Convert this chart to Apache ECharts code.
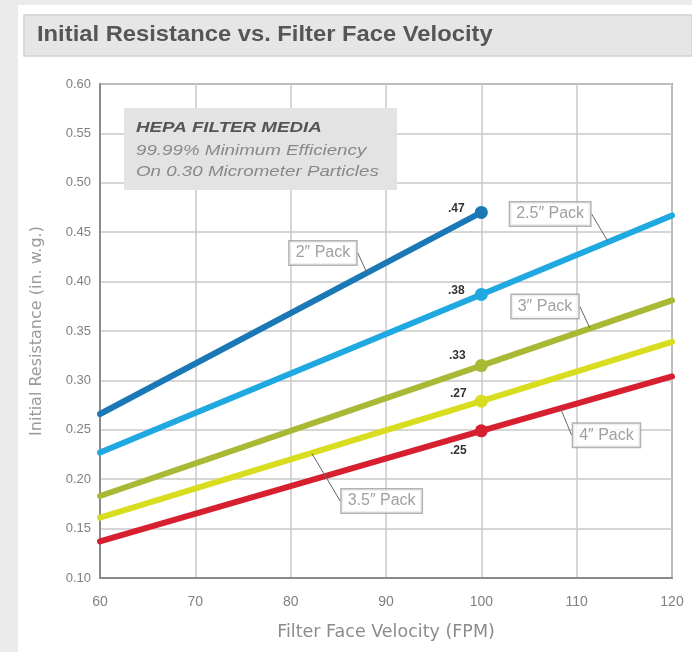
<!DOCTYPE html>
<html>
<head>
<meta charset="utf-8">
<script src="https://cdn.jsdelivr.net/npm/echarts@6/dist/echarts.min.js"></script>
<style>
html,body{margin:0;padding:0;background:#ebebeb;}
#c{width:692px;height:652px;}
</style>
</head>
<body>
<div id="c"></div>
<script>
// Data
const velocity = [60, 100, 120];
const pack2 = [0.266, 0.470];
const pack25 = [0.227, 0.387, 0.467];
const pack3 = [0.183, 0.315, 0.381];
const pack35 = [0.161, 0.279, 0.339];
const pack4 = [0.137, 0.249, 0.304];
const dotLabels = ['.47', '.38', '.33', '.27', '.25'];
const seriesNames = ['2″ Pack', '2.5″ Pack', '3″ Pack', '3.5″ Pack', '4″ Pack'];
const calloutX = [88, 113.3, 111.4, 82.2, 108.3];
const yTicks = [0.10, 0.15, 0.20, 0.25, 0.30, 0.35, 0.40, 0.45, 0.50, 0.55, 0.60];
const xTicks = [60, 70, 80, 90, 100, 110, 120];

const colors = ['#1b78b6', '#20a9e1', '#a9b935', '#d9dd1f', '#d7202f'];
const allVals = [pack2, pack25, pack3, pack35, pack4];
const dotPos = [[-25, -4], [-25, -4], [-24, -10], [-23, -7], [-23, 20]];
const calloutOffset = [[-44, -20], [-58, -28], [-45, -22], [70, 48], [46, 27]];

function interp(vals, x) {
  for (let i = 0; i < vals.length - 1; i++) {
    const x0 = velocity[i], x1 = velocity[i + 1];
    if (x >= x0 && x <= x1) return vals[i] + (vals[i + 1] - vals[i]) * (x - x0) / (x1 - x0);
  }
  return vals[vals.length - 1];
}

const series = [];
allVals.forEach((vals, si) => {
  series.push({
    name: seriesNames[si],
    type: 'line',
    data: vals.map((v, i) => {
      const item = { value: [velocity[i], v], symbolSize: 0 };
      if (velocity[i] === 100) {
        item.symbolSize = 13;
        item.label = {
          show: true, formatter: dotLabels[si], position: 'inside',
          offset: dotPos[si], fontSize: 12, fontWeight: 'bold', color: '#333',
          fontFamily: 'Liberation Sans'
        };
      }
      return item;
    }),
    symbol: 'circle',
    showSymbol: true,
    lineStyle: { color: colors[si], width: 6, cap: 'round' },
    itemStyle: { color: colors[si] },
    z: 3,
    animation: false
  });
  const cx = calloutX[si];
  series.push({
    type: 'scatter',
    data: [[cx, interp(vals, cx)]],
    symbolSize: 1,
    itemStyle: { color: 'rgba(0,0,0,0)' },
    label: {
      show: true, position: 'inside', formatter: seriesNames[si],
      backgroundColor: '#fff', borderColor: '#a0a0a0', borderWidth: 1.5,
      padding: [4, 6, 3, 6], fontSize: 16, color: '#888',
      fontFamily: 'Liberation Sans'
    },
    labelLayout: { dx: calloutOffset[si][0], dy: calloutOffset[si][1] },
    labelLine: { show: true, lineStyle: { color: '#666', width: 1 } },
    z: 5,
    animation: false
  });
});

const chart = echarts.init(document.getElementById('c'));
chart.setOption({
  animation: false,
  backgroundColor: '#ebebeb',
  grid: { left: 100, right: 20, top: 84, bottom: 74, show: true, borderColor: '#9a9a9a', borderWidth: 2, backgroundColor: '#fff' },
  graphic: [
    { type: 'rect', shape: { x: 18, y: 5, width: 674, height: 647 }, style: { fill: '#fff' }, z: -10, silent: true },
    { type: 'rect', shape: { x: 24, y: 15, width: 668, height: 41 }, style: { fill: '#e6e6e6', stroke: '#d2d2d2', lineWidth: 1.5 }, z: -9, silent: true },
    { type: 'text', x: 37, y: 24, scaleX: 1.08, style: { text: 'Initial Resistance vs. Filter Face Velocity', fontSize: 22, fontWeight: 'bold', fill: '#565656', fontFamily: 'Liberation Sans' }, z: 10 },
    { type: 'rect', shape: { x: 124, y: 108, width: 273, height: 82 }, style: { fill: '#e3e3e3' }, z: 10, silent: true },
    { type: 'text', x: 136, y: 120, scaleX: 1.25, style: { text: 'HEPA FILTER MEDIA', fontSize: 15, fontWeight: 'bold', fontStyle: 'italic', fill: '#555', fontFamily: 'Liberation Sans' }, z: 11 },
    { type: 'text', x: 136, y: 143, scaleX: 1.25, style: { text: '99.99% Minimum Efficiency', fontSize: 15, fontStyle: 'italic', fill: '#888', fontFamily: 'Liberation Sans' }, z: 11 },
    { type: 'text', x: 136, y: 164, scaleX: 1.25, style: { text: 'On 0.30 Micrometer Particles', fontSize: 15, fontStyle: 'italic', fill: '#888', fontFamily: 'Liberation Sans' }, z: 11 }
  ],
  xAxis: {
    type: 'value', min: xTicks[0], max: xTicks[xTicks.length - 1], interval: 10,
    name: 'Filter Face Velocity (FPM)', nameLocation: 'middle', nameGap: 45,
    nameTextStyle: { fontSize: 17.5, color: '#8c8c8c', fontFamily: 'DejaVu Sans' },
    axisLine: { show: true, lineStyle: { color: '#8a8a8a', width: 2 } },
    axisTick: { show: false },
    axisLabel: { fontSize: 14, color: '#808080', margin: 17, fontFamily: 'Liberation Sans' },
    splitLine: { show: true, lineStyle: { color: '#c8c8c8', width: 1.5 } }
  },
  yAxis: {
    type: 'value', min: yTicks[0], max: yTicks[yTicks.length - 1], interval: 0.05,
    name: 'Initial Resistance (in. w.g.)', nameLocation: 'middle', nameGap: 55,
    nameTextStyle: { fontSize: 16, color: '#9a9a9a', fontFamily: 'DejaVu Sans' },
    axisLine: { show: true, lineStyle: { color: '#8a8a8a', width: 2 } },
    axisTick: { show: false },
    axisLabel: { fontSize: 13, color: '#808080', margin: 9, fontFamily: 'Liberation Sans', formatter: v => v.toFixed(2) },
    splitLine: { show: true, lineStyle: { color: '#c8c8c8', width: 1.5 } }
  },
  series: series
});
</script>
</body>
</html>
